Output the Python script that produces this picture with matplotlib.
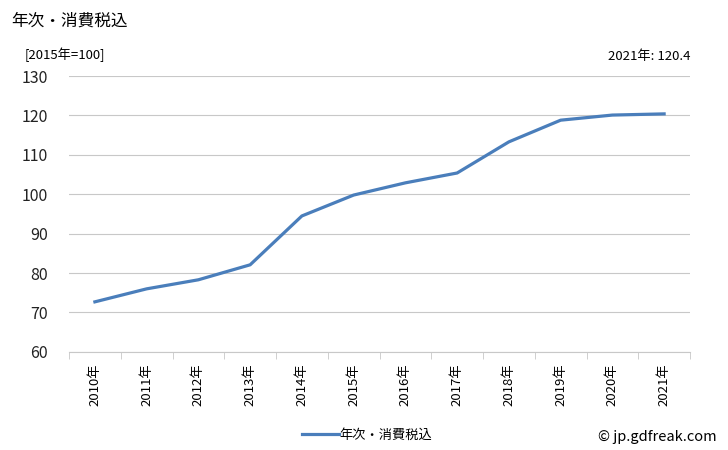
import matplotlib
matplotlib.use('Agg')
import matplotlib.pyplot as plt
import numpy as np

plt.rcParams['font.family'] = ['Noto Sans CJK JP', 'DejaVu Sans']

years = ['2010年', '2011年', '2012年', '2013年', '2014年', '2015年',
         '2016年', '2017年', '2018年', '2019年', '2020年', '2021年']
values = [72.7, 76.0, 78.3, 82.1, 94.5, 99.8, 102.9, 105.4, 113.3, 118.8, 120.1, 120.4]
series_name = '年次・消費税込'
y_ticks = [60, 70, 80, 90, 100, 110, 120, 130]

fig = plt.figure(figsize=(7.28, 4.5), dpi=100)
ax = fig.add_axes([0.0948, 0.218, 0.853, 0.613])

x = np.arange(len(years))
ax.plot(x, values, color='#4a7ebb', lw=2.3, label=series_name)

ax.set_xlim(-0.5, len(years) - 0.5)
ax.set_ylim(60, 130)
ax.set_yticks(y_ticks)
ax.yaxis.grid(True, color='#c8c8c8', lw=0.8)
ax.set_axisbelow(True)
for s in ['top', 'right', 'left']:
    ax.spines[s].set_visible(False)
ax.spines['bottom'].set_color('#c8c8c8')
ax.tick_params(axis='y', length=0, labelsize=11.5, pad=15, colors='#222222')
ax.set_xticks(x)
ax.set_xticklabels(years, rotation=90, fontsize=9.5)
ax.tick_params(axis='x', length=0, pad=8)
ax.set_xticks(np.arange(-0.5, len(years), 1), minor=True)
ax.tick_params(axis='x', which='minor', length=5, color='#c8c8c8')

fig.text(0.015, 0.952, '年次・消費税込', fontsize=12, va='center')
fig.text(0.034, 0.878, '[2015年=100]', fontsize=9.5, va='center')
fig.text(0.948, 0.875, '2021年: 120.4', fontsize=9.5, va='center', ha='right')
fig.text(0.985, 0.028, '© jp.gdfreak.com', fontsize=10.5, va='center', ha='right')

ax.legend(loc='upper center', bbox_to_anchor=(0.48, -0.235), frameon=False,
          fontsize=9.5, handlelength=2.8, handletextpad=0.1)

fig.savefig('out.png', dpi=100)
